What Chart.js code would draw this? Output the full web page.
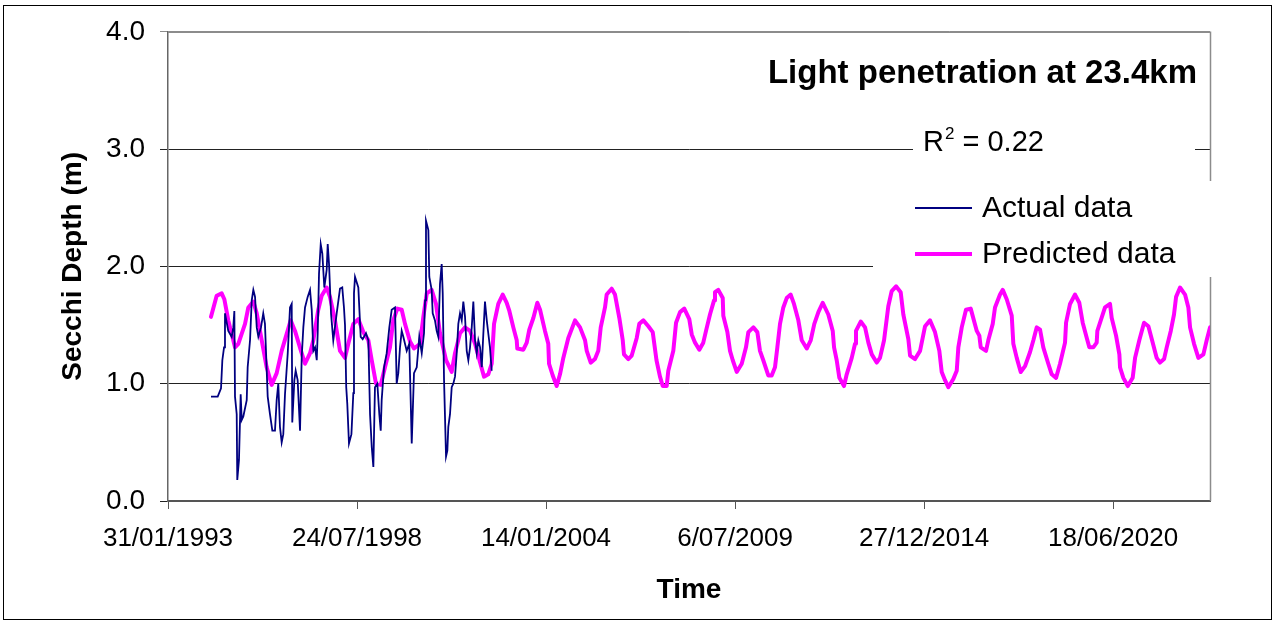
<!DOCTYPE html>
<html>
<head>
<meta charset="utf-8">
<script src="https://cdn.jsdelivr.net/npm/chart.js@4/dist/chart.umd.min.js"></script>
<style>
  html, body { margin: 0; padding: 0; background: #fff; }
  #secchiGraph { display: block; }
</style>
</head>
<body>
<canvas id="secchiGraph" width="1276" height="624"></canvas>
<script>
// dates are spreadsheet serial days (day 0 = 30/12/1899)
const actualDays = [
  34455, 34526, 34561, 34575, 34593, 34603, 34638, 34674, 34691, 34702,
  34709, 34727, 34733, 34751, 34769, 34780, 34797, 34833, 34843, 34868,
  34886, 34903, 34921, 34939, 34956, 34984, 35008, 35026, 35055, 35079,
  35104, 35132, 35150, 35167, 35185, 35203, 35220, 35238, 35267, 35291,
  35309, 35315, 35337, 35351, 35372, 35397, 35415, 35432, 35450, 35478,
  35503, 35521, 35538, 35556, 35574, 35584, 35598, 35616, 35633, 35654,
  35679, 35690, 35704, 35725, 35749, 35785, 35820, 35844, 35862, 35873,
  35886, 35897, 35915, 35941, 35961, 35968, 35979, 36014, 36039, 36060,
  36095, 36120, 36138, 36156, 36173, 36190, 36215, 36236, 36251, 36261,
  36286, 36314, 36342, 36367, 36402, 36420, 36437, 36455, 36473, 36490,
  36526, 36553, 36568, 36579, 36603, 36632, 36659, 36685, 36709, 36720,
  36730, 36755, 36765, 36790, 36801, 36825, 36843, 36860, 36878, 36896,
  36907, 36921, 36942, 36956, 36966, 36984, 37002, 37019, 37037, 37055,
  37072, 37090, 37108, 37125, 37143, 37161, 37178, 37196, 37214, 37231,
  37249, 37267, 37284, 37302, 37320, 37337, 37354, 37373, 37389, 37407,
  37425
];
const actualDepth = [
  0.89, 0.89, 0.96, 1.20, 1.31, 1.60, 1.45, 1.40, 1.48, 1.62,
  0.89, 0.74, 0.18, 0.35, 0.91, 0.69, 0.72, 0.86, 1.14, 1.37,
  1.71, 1.80, 1.74, 1.48, 1.40, 1.48, 1.60, 1.51, 0.89, 0.74,
  0.60, 0.60, 0.86, 1.00, 0.63, 0.50, 0.57, 0.91, 1.26, 1.65,
  1.68, 0.67, 1.03, 1.11, 1.03, 0.60, 1.23, 1.48, 1.65, 1.74,
  1.80, 1.63, 1.28, 1.31, 1.20, 1.43, 1.94, 2.19, 2.11, 1.82,
  1.97, 2.19, 2.02, 1.60, 1.37, 1.60, 1.81, 1.82, 1.65, 1.50,
  0.97, 0.83, 0.49, 0.57, 0.92, 1.77, 1.91, 1.82, 1.40, 1.38,
  1.43, 1.37, 0.74, 0.46, 0.29, 0.97, 1.00, 0.74, 0.60, 0.86,
  1.14, 1.26, 1.48, 1.63, 1.65, 1.00, 1.09, 1.31, 1.45, 1.40,
  1.28, 1.34, 0.86, 0.49, 1.09, 1.14, 1.40, 1.26, 1.43, 1.71,
  2.39, 2.31, 1.91, 1.80, 1.60, 1.54, 1.45, 1.40, 1.85, 2.02,
  1.77, 1.03, 0.38, 0.43, 0.63, 0.74, 0.97, 1.00, 1.06, 1.26,
  1.51, 1.60, 1.54, 1.70, 1.57, 1.28, 1.20, 1.31, 1.48, 1.70,
  1.37, 1.26, 1.37, 1.31, 1.14, 1.43, 1.70, 1.54, 1.43, 1.31,
  1.11
];

const predictedDays = [
  34455, 34515, 34568, 34596, 34638, 34709, 34744, 34815, 34850, 34903,
  34939, 34992, 35044, 35097, 35150, 35203, 35298, 35344, 35407, 35450,
  35503, 35538, 35590, 35626, 35679, 35714, 35767, 35820, 35873, 35908,
  35961, 36014, 36067, 36120, 36156, 36201, 36251, 36296, 36349, 36384,
  36426, 36473, 36508, 36561, 36603, 36667, 36702, 36738, 36790, 36836,
  36878, 36942, 37002, 37037, 37090, 37143, 37196, 37249, 37302, 37344,
  37389, 37425, 37450, 37495, 37542, 37584, 37612, 37654, 37690, 37696,
  37760, 37796, 37823, 37866, 37908, 37937, 37989, 38024, 38032, 38071,
  38113, 38148, 38183, 38236, 38307, 38360, 38413, 38431, 38473, 38518,
  38553, 38579, 38624, 38642, 38695, 38730, 38776, 38812, 38825, 38871,
  38907, 38960, 38987, 39030, 39083, 39129, 39169, 39206, 39235, 39277,
  39294, 39347, 39376, 39418, 39463, 39516, 39542, 39577, 39622, 39664,
  39693, 39735, 39778, 39788, 39823, 39870, 39876, 39919, 39947, 39976,
  40018, 40071, 40116, 40141, 40194, 40236, 40264, 40299, 40352, 40388,
  40423, 40448, 40476, 40511, 40547, 40589, 40624, 40670, 40706, 40759,
  40801, 40839, 40882, 40928, 40987, 41034, 41048, 41076, 41104, 41153,
  41182, 41235, 41270, 41280, 41330, 41376, 41411, 41447, 41499, 41534,
  41577, 41622, 41658, 41704, 41753, 41781, 41834, 41852, 41905, 41958,
  42011, 42063, 42116, 42162, 42187, 42222, 42257, 42310, 42346, 42363,
  42399, 42444, 42494, 42558, 42585, 42600, 42656, 42680, 42727, 42751,
  42804, 42833, 42875, 42928, 42945, 42981, 43023, 43069, 43122, 43157,
  43192, 43228, 43262, 43315, 43351, 43397, 43439, 43492, 43503, 43545,
  43598, 43643, 43679, 43722, 43749, 43791, 43827, 43834, 43915, 43968,
  43986, 44032, 44067, 44074, 44109, 44156, 44208, 44233, 44278, 44328,
  44374, 44420, 44462, 44497, 44540, 44568, 44611, 44645, 44667, 44709,
  44762, 44797, 44815, 44857, 44903, 44956, 44991, 45026
];
const predictedDepth = [
  1.57, 1.75, 1.77, 1.72, 1.54, 1.31, 1.34, 1.51, 1.65, 1.70,
  1.60, 1.37, 1.14, 0.99, 1.09, 1.28, 1.54, 1.45, 1.28, 1.17,
  1.26, 1.37, 1.63, 1.75, 1.82, 1.74, 1.54, 1.28, 1.22, 1.34,
  1.51, 1.55, 1.44, 1.37, 1.20, 1.00, 0.99, 1.14, 1.31, 1.54,
  1.64, 1.63, 1.51, 1.36, 1.30, 1.34, 1.57, 1.77, 1.80, 1.68,
  1.43, 1.20, 1.10, 1.26, 1.43, 1.48, 1.45, 1.34, 1.18, 1.06,
  1.08, 1.17, 1.51, 1.68, 1.76, 1.69, 1.62, 1.48, 1.37, 1.30,
  1.29, 1.35, 1.46, 1.56, 1.69, 1.63, 1.45, 1.34, 1.17, 1.07,
  0.98, 1.08, 1.22, 1.39, 1.54, 1.48, 1.37, 1.28, 1.18, 1.21,
  1.28, 1.48, 1.65, 1.76, 1.81, 1.76, 1.56, 1.37, 1.25, 1.21,
  1.24, 1.39, 1.51, 1.54, 1.49, 1.44, 1.20, 1.06, 0.98, 0.98,
  1.11, 1.28, 1.52, 1.61, 1.64, 1.55, 1.42, 1.35, 1.29, 1.35,
  1.45, 1.59, 1.71, 1.78, 1.80, 1.73, 1.58, 1.44, 1.28, 1.20,
  1.10, 1.17, 1.31, 1.44, 1.48, 1.44, 1.28, 1.20, 1.07, 1.07,
  1.14, 1.31, 1.51, 1.65, 1.73, 1.76, 1.68, 1.54, 1.37, 1.30,
  1.37, 1.51, 1.61, 1.69, 1.59, 1.45, 1.31, 1.20, 1.05, 0.98,
  1.08, 1.22, 1.34, 1.45, 1.53, 1.48, 1.35, 1.25, 1.18, 1.22,
  1.37, 1.66, 1.79, 1.83, 1.78, 1.59, 1.38, 1.24, 1.21, 1.28,
  1.49, 1.54, 1.44, 1.28, 1.10, 1.03, 0.97, 1.04, 1.11, 1.31,
  1.48, 1.63, 1.64, 1.45, 1.41, 1.31, 1.28, 1.37, 1.51, 1.65,
  1.76, 1.80, 1.72, 1.58, 1.34, 1.22, 1.10, 1.15, 1.27, 1.37,
  1.48, 1.46, 1.31, 1.17, 1.08, 1.05, 1.17, 1.35, 1.52, 1.68,
  1.76, 1.69, 1.52, 1.39, 1.31, 1.31, 1.35, 1.45, 1.65, 1.68,
  1.56, 1.41, 1.25, 1.14, 1.05, 0.98, 1.05, 1.22, 1.37, 1.52,
  1.49, 1.35, 1.22, 1.18, 1.21, 1.31, 1.45, 1.59, 1.74, 1.82,
  1.76, 1.65, 1.48, 1.34, 1.22, 1.25, 1.37, 1.48
];

// tick positions on the date axis (31/01/1993 ... 18/06/2020)
const xTicks = [34000, 36000, 38000, 40000, 42000, 44000];
const xMin = 34000;
const xMax = 45026;
const yTicks = [0, 1, 2, 3, 4];

const chartTitle = "Light penetration at 23.4km";
const rSquared = "0.22";

const fontFamily = "'Liberation Sans', Arial, sans-serif";
Chart.defaults.font.family = fontFamily;
Chart.defaults.color = "#000";

function serialToLabel(serial) {
  const d = new Date(Date.UTC(1899, 11, 30) + serial * 86400000);
  const mm = String(d.getUTCMonth() + 1).padStart(2, "0");
  return d.getUTCDate() + "/" + mm + "/" + d.getUTCFullYear();
}

const toPoints = (xs, ys) => xs.map((x, i) => ({ x: x, y: ys[i] }));

// white page, plot frame and the outer border
const framePlugin = {
  id: "frame",
  beforeDraw(chart) {
    const ctx = chart.ctx;
    ctx.save();
    ctx.fillStyle = "#fff";
    ctx.fillRect(0, 0, chart.width, chart.height);
    ctx.restore();
  },
  beforeDatasetsDraw(chart) {
    const { ctx, chartArea: a } = chart;
    ctx.save();
    ctx.strokeStyle = "#8c8c8c";
    ctx.lineWidth = 1.5;
    ctx.beginPath();
    ctx.moveTo(a.left, a.top + 0.5);
    ctx.lineTo(a.right + 0.5, a.top + 0.5);
    ctx.lineTo(a.right + 0.5, a.bottom);
    ctx.stroke();
    ctx.restore();
  },
  afterDraw(chart) {
    const ctx = chart.ctx;
    ctx.save();
    ctx.strokeStyle = "#000";
    ctx.lineWidth = 1;
    ctx.strokeRect(3.5, 5.5, 1268, 614);
    ctx.restore();
  },
};

// title, R squared box and the legend drawn inside the plot
const labelsPlugin = {
  id: "labels",
  afterDraw(chart) {
    const ctx = chart.ctx;
    ctx.save();

    // boxes behind the texts
    ctx.fillStyle = "#fff";
    ctx.fillRect(913, 126, 282, 44);
    ctx.fillRect(873, 181, 340, 96);

    ctx.fillStyle = "#000";
    ctx.textBaseline = "alphabetic";

    ctx.font = "bold 33px " + fontFamily;
    ctx.textAlign = "right";
    ctx.fillText(chartTitle, 1197, 83);

    ctx.textAlign = "left";
    ctx.font = "29px " + fontFamily;
    ctx.fillText("R", 923, 151);
    let x = 923 + ctx.measureText("R").width;
    ctx.font = "17px " + fontFamily;
    ctx.fillText("2", x + 1, 139);
    x += ctx.measureText("2").width + 1;
    ctx.font = "29px " + fontFamily;
    ctx.fillText(" = " + rSquared, x, 151);

    const items = [
      { text: "Actual data", color: "#000080", width: 2, y: 208 },
      { text: "Predicted data", color: "#ff00ff", width: 4, y: 254 },
    ];
    ctx.font = "30px " + fontFamily;
    ctx.textBaseline = "middle";
    items.forEach((it) => {
      ctx.strokeStyle = it.color;
      ctx.lineWidth = it.width;
      ctx.beginPath();
      ctx.moveTo(915, it.y);
      ctx.lineTo(972, it.y);
      ctx.stroke();
      ctx.fillText(it.text, 982, it.y + 1);
    });
    ctx.restore();
  },
};

const canvas = document.querySelector("#secchiGraph");
const secchiChart = new Chart(canvas, {
  type: "line",
  data: {
    datasets: [
      {
        label: "Actual data",
        data: toPoints(actualDays, actualDepth),
        borderColor: "#000080",
        borderWidth: 1.8,
        pointRadius: 0,
        tension: 0,
      },
      {
        label: "Predicted data",
        data: toPoints(predictedDays, predictedDepth),
        borderColor: "#ff00ff",
        borderWidth: 4,
        pointRadius: 0,
        tension: 0,
        borderJoinStyle: "round",
        borderCapStyle: "round",
      },
    ],
  },
  options: {
    responsive: false,
    animation: false,
    layout: {
      padding: { top: 30, right: 66, left: 0, bottom: 0 },
    },
    scales: {
      x: {
        type: "linear",
        min: xMin,
        max: xMax,
        afterFit: (scale) => {
          scale.height = 123;
        },
        afterBuildTicks: (scale) => {
          scale.ticks = xTicks.map((v) => ({ value: v }));
        },
        ticks: {
          maxRotation: 0,
          autoSkip: false,
          padding: 14,
          font: { size: 26 },
          callback: (value) => serialToLabel(value),
        },
        grid: {
          drawOnChartArea: false,
          drawTicks: true,
          tickLength: 8,
          color: "#555",
        },
        border: { color: "#555", width: 2 },
        title: {
          display: true,
          text: "Time",
          font: { size: 28, weight: "bold" },
          padding: { top: 0, bottom: 17 },
        },
      },
      y: {
        min: 0,
        max: 4,
        afterFit: (scale) => {
          scale.width = 168;
        },
        afterBuildTicks: (scale) => {
          scale.ticks = yTicks.map((v) => ({ value: v }));
        },
        ticks: {
          padding: 15,
          font: { size: 28 },
          callback: (value) => value.toFixed(1),
        },
        grid: {
          color: (c) => (c.tick && c.tick.value === 4 ? "#8c8c8c" : "#222"),
          tickLength: 8,
        },
        border: { color: "#666", width: 1.5 },
        title: {
          display: true,
          text: "Secchi Depth (m)",
          font: { size: 28, weight: "bold" },
          padding: { top: 56, bottom: 0 },
        },
      },
    },
    plugins: {
      legend: { display: false },
      tooltip: { enabled: false },
    },
  },
  plugins: [framePlugin, labelsPlugin],
});
</script>
</body>
</html>
